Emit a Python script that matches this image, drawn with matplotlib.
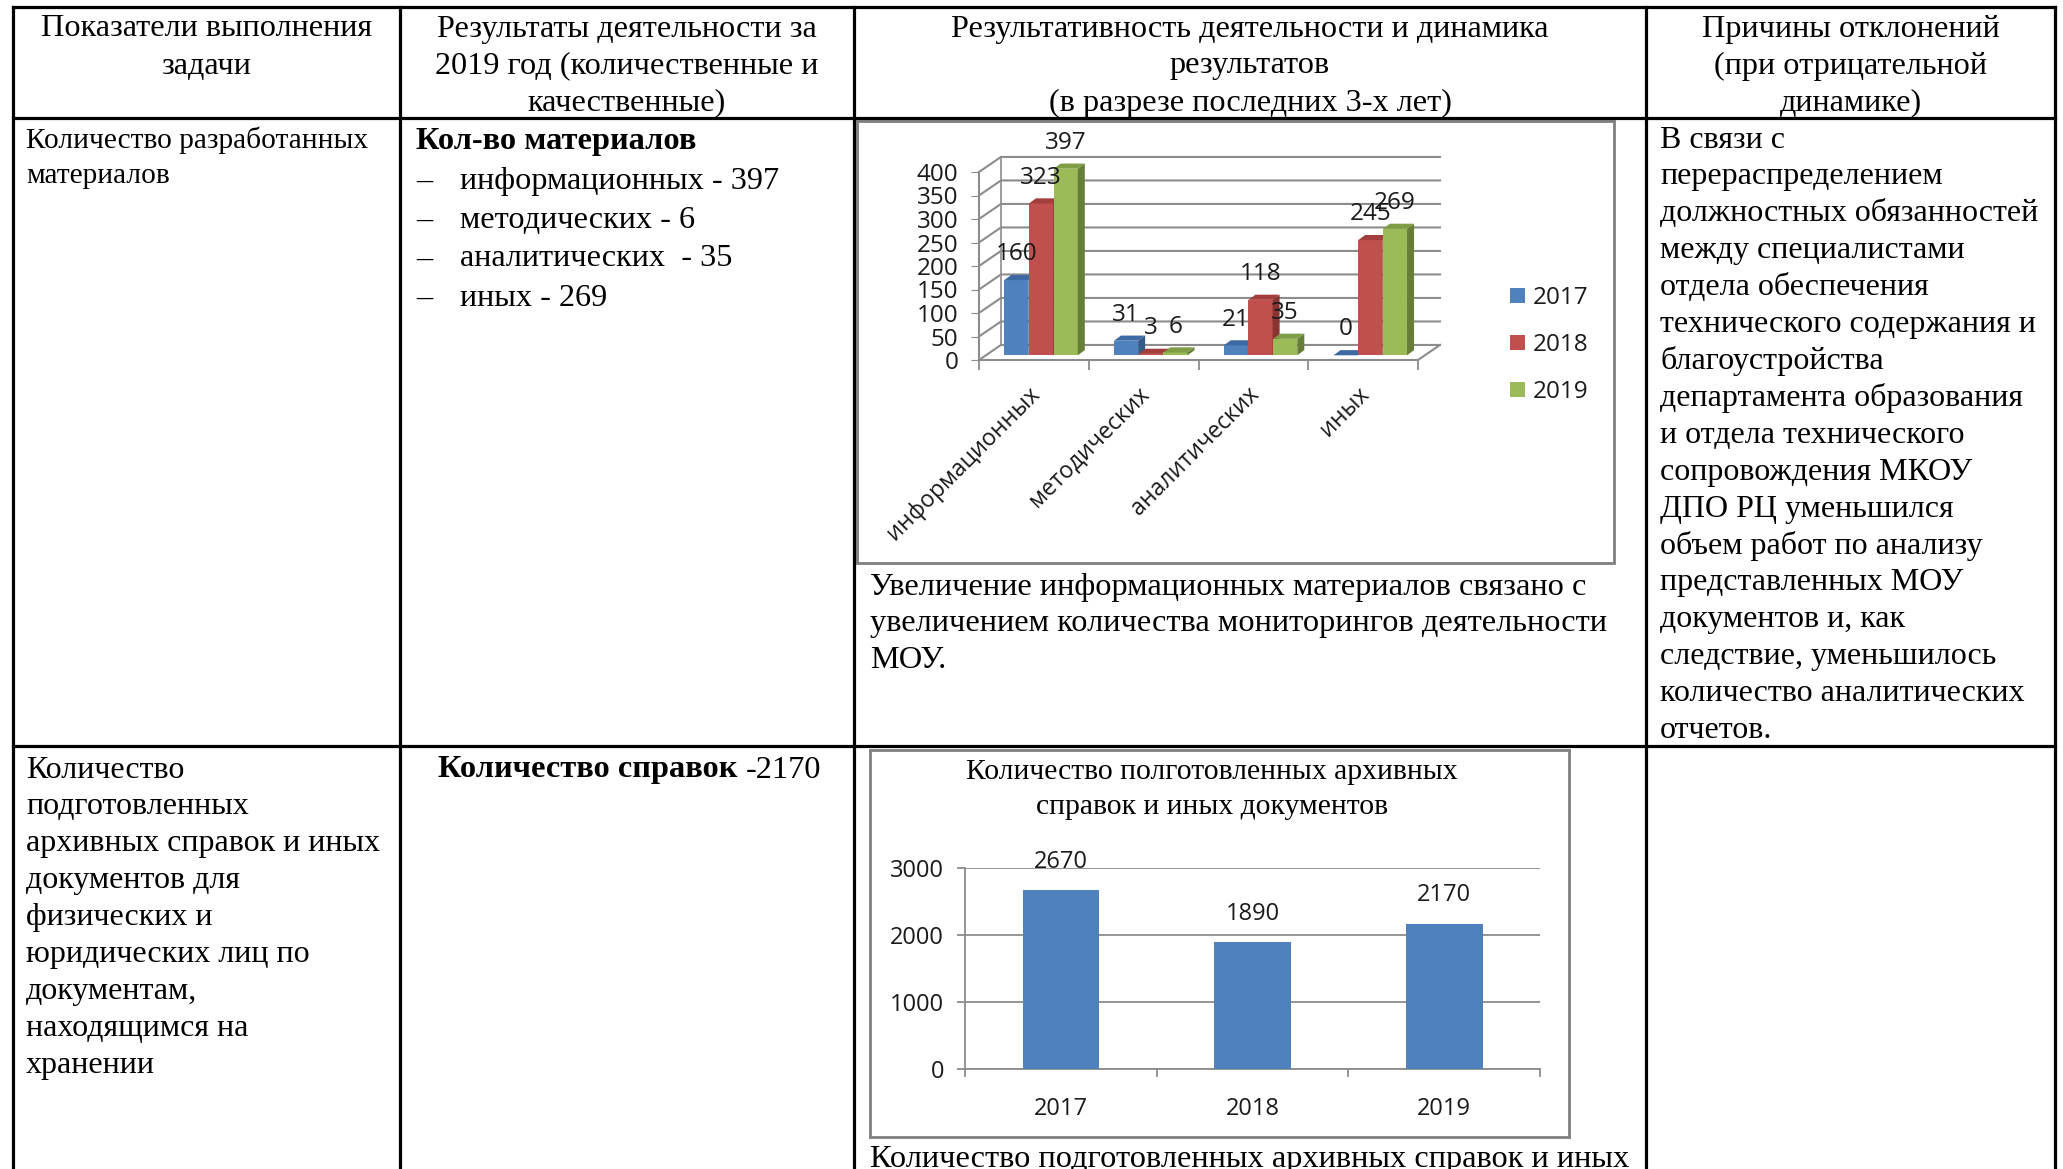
import matplotlib.pyplot as plt
from matplotlib.patches import Polygon, Rectangle
from matplotlib.transforms import ScaledTranslation

# data
years = ["2017", "2018", "2019"]
material_types = ["информационных", "методических", "аналитических", "иных"]
materials_2017 = [160, 31, 21, 0]
materials_2018 = [323, 3, 118, 245]
materials_2019 = [397, 6, 35, 269]

archive_years = ["2017", "2018", "2019"]
archive_counts = [2670, 1890, 2170]

header_texts = [
    ["Показатели выполнения", "задачи"],
    ["Результаты деятельности за", "2019 год (количественные и", "качественные)"],
    ["Результативность деятельности и динамика", "результатов", "(в разрезе последних 3-х лет)"],
    ["Причины отклонений", "(при отрицательной", "динамике)"],
]
row1_col1 = ["Количество разработанных", "материалов"]
row1_col2_title = "Кол-во материалов"
row1_caption = ["Увеличение информационных материалов связано с",
                "увеличением количества мониторингов деятельности",
                "МОУ."]
row1_reason = ["В связи с", "перераспределением", "должностных обязанностей",
               "между специалистами", "отдела обеспечения",
               "технического содержания и", "благоустройства",
               "департамента образования", "и отдела технического",
               "сопровождения МКОУ", "ДПО РЦ уменьшился",
               "объем работ по анализу", "представленных МОУ",
               "документов и, как", "следствие, уменьшилось",
               "количество аналитических", "отчетов."]
row2_col1 = ["Количество", "подготовленных", "архивных справок и иных",
             "документов для", "физических и", "юридических лиц по",
             "документам,", "находящимся на", "хранении"]
archive_title = ["Количество полготовленных архивных", "справок и иных документов"]
row2_caption = "Количество подготовленных архивных справок и иных"

SERIF = "Liberation Serif"
plt.rcParams["font.family"] = ["Open Sans", "DejaVu Sans"]
TXT = "#1a1a1a"
GRID = "#8c8c8c"

W, H = 2063, 1169
fig = plt.figure(figsize=(W / 100, H / 100), dpi=100)

# page layer in pixel coordinates
bg = fig.add_axes([0, 0, 1, 1])
bg.set_xlim(0, W)
bg.set_ylim(H, 0)
bg.axis("off")

col_x = [13, 400, 854, 1646, 2055]
for x in col_x:
    bg.plot([x, x], [7, H], color="black", lw=2.3, solid_capstyle="projecting")
for y in [7, 118, 746]:
    bg.plot([col_x[0], col_x[-1]], [y, y], color="black", lw=2.3, solid_capstyle="projecting")


def put_lines(x, y0, step, items, size, ha="left", weight="normal"):
    for i, s in enumerate(items):
        bg.text(x, y0 + 3 + i * step, s, fontsize=size, ha=ha, va="center",
                family=SERIF, weight=weight, color="black")


# header
for c, items in enumerate(header_texts):
    put_lines((col_x[c] + col_x[c + 1]) / 2, 26, 37, items, 23.2, ha="center")

# row 1
put_lines(26, 137, 36, row1_col1, 21.2)
put_lines(416, 138, 0, [row1_col2_title], 23.3, weight="bold")
for i, (name, val) in enumerate(zip(material_types, materials_2019)):
    sep = "  - " if name == "аналитических" else " - "
    put_lines(416, 178 + i * 39, 0, ["–"], 23.2)
    put_lines(460, 178 + i * 39, 0, [name + sep + str(val)], 23.2)
put_lines(870, 584, 37, row1_caption, 23.3)
put_lines(1660, 137, 36.9, row1_reason, 23)

# row 2
put_lines(26, 767, 36.9, row2_col1, 23)
t = bg.text(438, 770, "Количество справок ", fontsize=23.3, weight="bold", family=SERIF,
            va="center")
bg.annotate("-" + str(archive_counts[-1]), xy=(1, 0.5), xycoords=t, va="center",
            fontsize=23.3, family=SERIF)
put_lines(870, 1156, 37, [row2_caption], 23.3)

# chart frames
bg.add_patch(Rectangle((857, 121), 757, 442, fill=False, ec="#7f7f7f", lw=2))
bg.add_patch(Rectangle((870, 750), 699, 387, fill=False, ec="#7f7f7f", lw=2))

# ---- chart 1: pseudo 3D clustered columns
ax1 = fig.add_axes([979 / W, 1 - 360 / H, 439 / W, 188 / H])
ax1.set_xlim(-0.5, 3.5)
ax1.set_ylim(0, 400)
ax1.patch.set_alpha(0)
for s in ax1.spines.values():
    s.set_visible(False)

DX, DY = 0.2, 32
for v in range(0, 401, 50):
    ax1.plot([-0.5, -0.5 + DX, 3.5 + DX], [v, v + DY, v + DY], color=GRID, lw=1.5,
             clip_on=False, zorder=1)
ax1.plot([-0.5, -0.5], [0, 400], color=GRID, lw=1.5, clip_on=False, zorder=1)
ax1.plot([-0.5 + DX, -0.5 + DX], [DY, 400 + DY], color=GRID, lw=1.2, clip_on=False, zorder=1)
ax1.plot([-0.5, 3.5, 3.5 + DX], [0, 0, DY], color=GRID, lw=1.5, clip_on=False, zorder=1)

series = [materials_2017, materials_2018, materials_2019]
front_c = ["#4F81BD", "#C0504D", "#9BBB59"]
top_c = ["#3E6AA3", "#A23F3C", "#7F9D45"]
side_c = ["#345985", "#8A3431", "#667E37"]
offs = [-0.16, 0.065, 0.29]
bw = 0.22
B0 = 10
ddx, ddy = 0.064, 11
for i, vals in enumerate(series):
    xs = [j + offs[i] for j in range(len(vals))]
    ax1.bar(xs, vals, bw, bottom=B0, color=front_c[i], zorder=3 + i, clip_on=False,
            label=years[i])
    for x, v in zip(xs, vals):
        x0, x1 = x - bw / 2, x + bw / 2
        ax1.add_patch(Polygon([(x1, B0), (x1 + ddx, B0 + ddy), (x1 + ddx, B0 + v + ddy),
                               (x1, B0 + v)], closed=True, fc=side_c[i], ec="none",
                              zorder=3 + i, clip_on=False))
        ax1.add_patch(Polygon([(x0, B0 + v), (x0 + ddx, B0 + v + ddy),
                               (x1 + ddx, B0 + v + ddy), (x1, B0 + v)], closed=True,
                              fc=top_c[i], ec="none", zorder=3 + i, clip_on=False))
        ax1.text(x, B0 + v + 55, str(v), ha="center", va="center", fontsize=17.5,
                 color=TXT, zorder=10)

ax1.set_yticks(range(0, 401, 50))
ax1.tick_params(axis="y", length=6, color=GRID, pad=9, labelsize=17.5, labelcolor=TXT)
ax1.set_xticks(range(len(material_types)))
ax1.set_xticklabels(material_types, rotation=45, ha="right", rotation_mode="anchor")
ax1.set_xticks([-0.5, 0.5, 1.5, 2.5, 3.5], minor=True)
ax1.tick_params(axis="x", which="major", length=0, pad=19, labelsize=16.7, labelcolor=TXT)
ax1.tick_params(axis="x", which="minor", length=7, color=GRID, width=1.3)
shift = ScaledTranslation(-0.06, 0.04, fig.dpi_scale_trans)
for lbl in ax1.get_xticklabels():
    lbl.set_transform(lbl.get_transform() + shift)

ax1.legend(loc="center left", bbox_to_anchor=(1510 / W, 1 - 345 / H),
           bbox_transform=fig.transFigure, frameon=False, fontsize=17.5,
           handlelength=0.6, handleheight=0.6, handletextpad=0.35,
           labelspacing=0.95, borderpad=0, borderaxespad=0, labelcolor=TXT)

# ---- chart 2: archive documents
for i, s in enumerate(archive_title):
    bg.text(1212, 772 + i * 35, s, fontsize=21.3, family=SERIF, ha="center", va="center")

ax2 = fig.add_axes([965 / W, 1 - 1069 / H, 575 / W, 201 / H])
ax2.patch.set_alpha(0)
ax2.bar(range(len(archive_counts)), archive_counts, 0.4, color="#4F81BD", zorder=3)
ax2.set_xlim(-0.5, 2.5)
ax2.set_ylim(0, 3000)
ax2.set_yticks([0, 1000, 2000, 3000])
ax2.yaxis.grid(True, color=GRID, lw=1.3)
ax2.set_axisbelow(True)
for s in ["top", "right"]:
    ax2.spines[s].set_visible(False)
for s in ["left", "bottom"]:
    ax2.spines[s].set_color(GRID)
    ax2.spines[s].set_linewidth(1.3)
ax2.set_xticks(range(len(archive_years)))
ax2.set_xticklabels(archive_years)
ax2.set_xticks([-0.5, 0.5, 1.5, 2.5], minor=True)
ax2.tick_params(axis="x", which="major", length=0, pad=20, labelsize=17, labelcolor=TXT)
ax2.tick_params(axis="x", which="minor", length=6, color=GRID, width=1.3)
ax2.tick_params(axis="y", length=6, color=GRID, width=1.3, pad=9, labelsize=17,
                labelcolor=TXT)
for i, v in enumerate(archive_counts):
    ax2.text(i, v + 420, str(v), ha="center", va="center", fontsize=17, color=TXT)

fig.savefig("out.png", dpi=100)
